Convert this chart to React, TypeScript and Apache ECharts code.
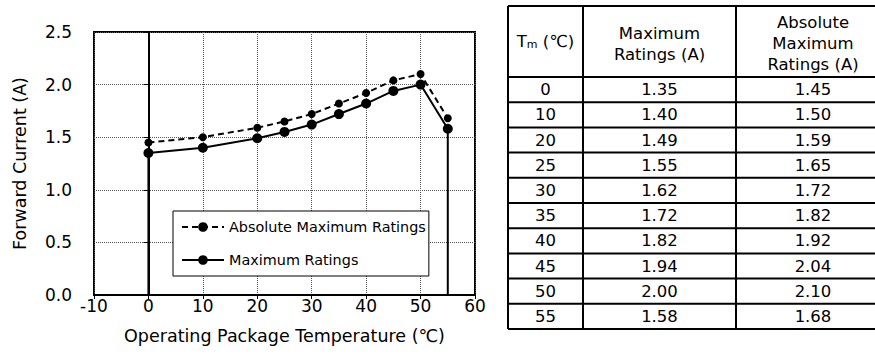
import React, { useEffect, useRef } from "react";
import * as echarts from "echarts";

const temps = [0, 10, 20, 25, 30, 35, 40, 45, 50, 55];
const maxRatings = [1.35, 1.4, 1.49, 1.55, 1.62, 1.72, 1.82, 1.94, 2.0, 1.58];
const absRatings = [1.45, 1.5, 1.59, 1.65, 1.72, 1.82, 1.92, 2.04, 2.1, 1.68];
const xTicks = { min: -10, max: 60, interval: 10 };
const yTicks = { min: 0, max: 2.5, interval: 0.5 };
const seriesNames = ["Absolute Maximum Ratings", "Maximum Ratings"];
const headerLabels = ["Maximum\nRatings (A)", "Absolute\nMaximum\nRatings (A)"];

const FONT = "DejaVu Sans";

export default function App() {
  const ref = useRef<HTMLDivElement>(null);
  useEffect(() => {
    document.body.style.margin = "0";
    const chart = echarts.init(ref.current!, null, { renderer: "svg" });

    const maxData: any[] = [
      { value: [temps[0], 0], symbol: "none" },
      ...temps.map((t, i) => [t, maxRatings[i]]),
      { value: [temps[temps.length - 1], 0], symbol: "none" },
    ];
    const absData = temps.map((t, i) => [t, absRatings[i]]);

    // table
    const tL = 508, c1 = 583, c2 = 736, tR = 890, tTop = 6, hBot = 77, rowH = 25.2;
    const tBottom = hBot + rowH * temps.length;
    const lw = 2;
    const g: any[] = [];
    const hl = (y: number) => g.push({ type: "line", shape: { x1: tL, y1: y, x2: tR, y2: y }, style: { stroke: "#000", lineWidth: lw } });
    const vl = (x: number) => g.push({ type: "line", shape: { x1: x, y1: tTop, x2: x, y2: tBottom }, style: { stroke: "#000", lineWidth: lw } });
    hl(tTop);
    hl(hBot);
    temps.forEach((_, i) => hl(hBot + rowH * (i + 1)));
    vl(tL); vl(c1); vl(c2); vl(tR);
    const txt = (x: number, y: number, text: string, extra: any = {}) =>
      g.push({
        type: "text",
        x, y,
        style: { text, fill: "#000", font: `16.5px '${FONT}'`, align: "center", verticalAlign: "middle", ...extra },
      });
    const hMid = (tTop + hBot) / 2;
    g.push({
      type: "text",
      x: (tL + c1) / 2,
      y: hMid,
      style: {
        text: "{a|T}{b|m}{a| (℃)}",
        align: "center",
        verticalAlign: "middle",
        rich: {
          a: { fontFamily: FONT, fontSize: 16.5, fill: "#000" },
          b: { fontFamily: FONT, fontSize: 11, fill: "#000", padding: [6, 0, 0, 0] },
        },
      },
    });
    txt((c1 + c2) / 2, hMid + 2, headerLabels[0], { lineHeight: 21 });
    txt((c2 + tR) / 2, hMid + 2, headerLabels[1], { lineHeight: 21 });
    temps.forEach((t, i) => {
      const y = hBot + rowH * i + rowH / 2;
      txt((tL + c1) / 2, y, String(t));
      txt((c1 + c2) / 2, y, maxRatings[i].toFixed(2));
      txt((c2 + tR) / 2, y, absRatings[i].toFixed(2));
    });

    chart.setOption({
      animation: false,
      grid: { left: 94, right: 400, top: 32, bottom: 61, show: true, borderColor: "#000", borderWidth: 2, backgroundColor: "transparent" },
      xAxis: {
        type: "value",
        min: xTicks.min,
        max: xTicks.max,
        interval: xTicks.interval,
        name: "Operating Package Temperature (℃)",
        nameLocation: "middle",
        nameGap: 32,
        nameTextStyle: { fontFamily: FONT, fontSize: 17.5, color: "#000" },
        axisLine: { lineStyle: { color: "#000", width: 2 } },
        axisTick: { show: true, length: 4, lineStyle: { color: "#000", width: 1 } },
        axisLabel: { fontFamily: FONT, fontSize: 17, color: "#000", margin: 2 },
        splitLine: { show: true, lineStyle: { type: "dotted", color: "#555", width: 1 } },
      },
      yAxis: {
        type: "value",
        min: yTicks.min,
        max: yTicks.max,
        interval: yTicks.interval,
        name: "Forward Current (A)",
        nameLocation: "middle",
        nameGap: 65,
        nameTextStyle: { fontFamily: FONT, fontSize: 17.5, color: "#000" },
        axisLine: { show: true, lineStyle: { color: "#000", width: 2 } },
        axisTick: { show: true, length: 5, lineStyle: { color: "#000", width: 1 } },
        axisLabel: { fontFamily: FONT, fontSize: 17, color: "#000", margin: 22, formatter: (v: number) => v.toFixed(1) },
        splitLine: { show: true, lineStyle: { type: "dotted", color: "#555", width: 1 } },
      },
      legend: {
        orient: "vertical",
        left: 173,
        top: 211,
        data: seriesNames,
        backgroundColor: "#fff",
        borderColor: "#000",
        borderWidth: 1,
        borderRadius: 0,
        padding: [9, 3, 9, 8],
        itemWidth: 42,
        itemHeight: 12,
        itemGap: 19,
        textStyle: { fontFamily: FONT, fontSize: 14.4, color: "#000" },
      },
      series: [
        {
          name: seriesNames[0],
          type: "line",
          data: absData,
          symbol: "circle",
          symbolSize: 8,
          itemStyle: { color: "#000" },
          lineStyle: { color: "#000", width: 2, type: [6, 4] },
          z: 3,
        },
        {
          name: seriesNames[1],
          type: "line",
          data: maxData,
          symbol: "circle",
          symbolSize: 10,
          itemStyle: { color: "#000" },
          lineStyle: { color: "#000", width: 2 },
          z: 4,
        },
      ],
      graphic: g,
    });
    return () => chart.dispose();
  }, []);
  return <div ref={ref} style={{ width: 875, height: 356 }} />;
}
